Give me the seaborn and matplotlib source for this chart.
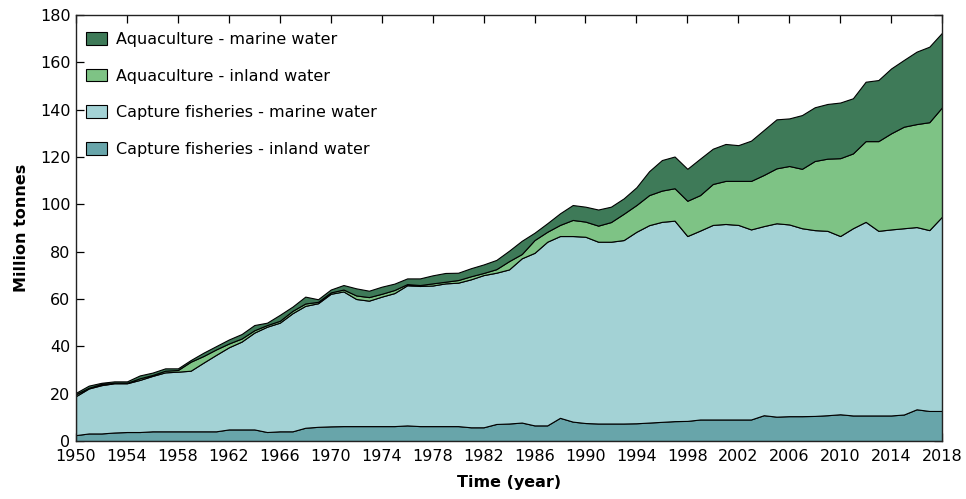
import numpy as np
import pandas as pd
import matplotlib
matplotlib.use("Agg")
import matplotlib.pyplot as plt
import seaborn as sns

YEARS = list(range(1950, 2019))

CAPTURE_INLAND = [
    2.5, 3.2, 3.2, 3.6, 3.8, 3.8, 4.1, 4.1, 4.1, 4.1,
    4.1, 4.1, 4.9, 4.9, 4.9, 3.8, 4.1, 4.1, 5.6, 6.0,
    6.2, 6.3, 6.3, 6.3, 6.3, 6.3, 6.6, 6.3, 6.3, 6.3,
    6.3, 5.8, 5.8, 7.2, 7.4, 7.8, 6.6, 6.6, 9.8, 8.2,
    7.6, 7.4, 7.4, 7.4, 7.5, 7.8, 8.1, 8.4, 8.5, 9.1,
    9.1, 9.1, 9.1, 9.1, 10.9, 10.3, 10.5, 10.5, 10.6, 10.9,
    11.3, 10.8, 10.8, 10.8, 10.8, 11.2, 13.4, 12.7, 12.7,
]
CAPTURE_MARINE = [
    16.5, 19.0, 20.4, 20.8, 20.6, 22.0, 23.4, 24.9, 25.2, 25.6,
    29.0, 32.3, 34.7, 37.1, 40.9, 44.5, 45.9, 49.9, 51.5, 52.2,
    56.0, 56.9, 53.7, 53.0, 54.7, 56.2, 59.2, 59.2, 59.4, 60.3,
    60.6, 62.5, 64.3, 63.9, 65.1, 69.4, 72.9, 77.6, 76.8, 78.4,
    78.7, 76.8, 76.8, 77.5, 80.9, 83.4, 84.5, 84.7, 78.1, 79.8,
    82.2, 82.6, 82.2, 80.3, 79.9, 81.7, 81.0, 79.4, 78.5, 77.9,
    75.3, 79.1, 81.8, 78.0, 78.6, 78.7, 77.0, 76.4, 82.1,
]
AQUA_INLAND = [
    0.8, 0.3, 0.5, 0.2, 0.2, 0.7, 0.4, 0.7, 0.7, 3.8,
    2.8, 2.3, 1.6, 1.3, 1.0, 0.7, 0.8, 1.0, 1.0, 0.6,
    0.6, 0.8, 1.5, 1.5, 1.2, 1.3, 0.5, 0.4, 0.9, 0.7,
    1.1, 1.3, 0.9, 1.5, 3.5, 1.8, 5.4, 4.2, 4.7, 6.8,
    6.4, 6.8, 8.3, 11.1, 11.3, 12.7, 13.2, 13.7, 14.9, 15.0,
    17.3, 18.2, 18.6, 20.5, 21.6, 23.2, 24.7, 25.1, 29.2, 30.5,
    32.9, 31.6, 34.1, 37.9, 40.6, 42.9, 43.5, 45.6, 46.2,
]
AQUA_MARINE = [
    0.6, 0.9, 0.5, 0.6, 0.6, 1.2, 1.0, 1.0, 0.7, 0.7,
    1.4, 1.4, 1.7, 1.9, 2.2, 1.0, 2.5, 1.8, 2.9, 1.1,
    1.2, 1.9, 3.0, 2.7, 3.0, 2.7, 2.4, 2.8, 3.4, 3.7,
    3.1, 3.4, 3.6, 3.9, 4.4, 5.6, 3.1, 3.6, 4.9, 6.3,
    6.3, 6.8, 6.5, 6.5, 7.5, 10.1, 12.9, 13.4, 13.5, 15.4,
    14.9, 15.6, 15.1, 17.0, 19.0, 20.7, 20.1, 22.7, 22.7, 23.1,
    23.5, 23.3, 25.1, 25.8, 27.4, 28.2, 30.6, 31.9, 31.5,
]

SERIES = [
    "Capture fisheries - inland water",
    "Capture fisheries - marine water",
    "Aquaculture - inland water",
    "Aquaculture - marine water",
]
COLORS = ["#68a5aa", "#a3d2d5", "#7ec385", "#3e7a58"]

df = pd.DataFrame({
    "year": YEARS,
    SERIES[0]: CAPTURE_INLAND,
    SERIES[1]: CAPTURE_MARINE,
    SERIES[2]: AQUA_INLAND,
    SERIES[3]: AQUA_MARINE,
})

sns.set_style("ticks")
plt.rcParams["font.family"] = ["DejaVu Sans"]
plt.rcParams["text.color"] = "black"
plt.rcParams["axes.labelcolor"] = "black"
plt.rcParams["xtick.color"] = "black"
plt.rcParams["ytick.color"] = "black"

fig = plt.figure(figsize=(9.66, 4.99), dpi=100)
ax = fig.add_axes([0.0787, 0.1162, 0.8965, 0.8538])

ax.stackplot(
    df["year"],
    [df[s] for s in SERIES],
    labels=SERIES,
    colors=COLORS,
    edgecolor="black",
    linewidth=0.8,
)

ax.set_xlim(1950, 2018)
ax.set_ylim(0, 180)
ax.set_xticks(range(1950, 2019, 4))
ax.set_yticks(range(0, 181, 20))
ax.tick_params(direction="in", top=True, right=True, length=6,
               labelsize=11.5, width=0.9)
ax.tick_params(axis="x", pad=6)
ax.tick_params(axis="y", pad=4)
for sp in ax.spines.values():
    sp.set_visible(True)
    sp.set_linewidth(1.0)
    sp.set_color("#222222")

ax.set_xlabel("Time (year)", fontsize=11.5, fontweight="bold", labelpad=8)
ax.set_ylabel("Million tonnes", fontsize=11.5, fontweight="bold", labelpad=8)

handles, labels = ax.get_legend_handles_labels()
ax.legend(handles[::-1], labels[::-1], loc="upper left", frameon=False,
          fontsize=11.5, labelspacing=1.35, handlelength=1.3,
          handleheight=0.85, handletextpad=0.6,
          borderaxespad=0.0, bbox_to_anchor=(0.004, 0.975))

fig.savefig("out.png", dpi=100)
